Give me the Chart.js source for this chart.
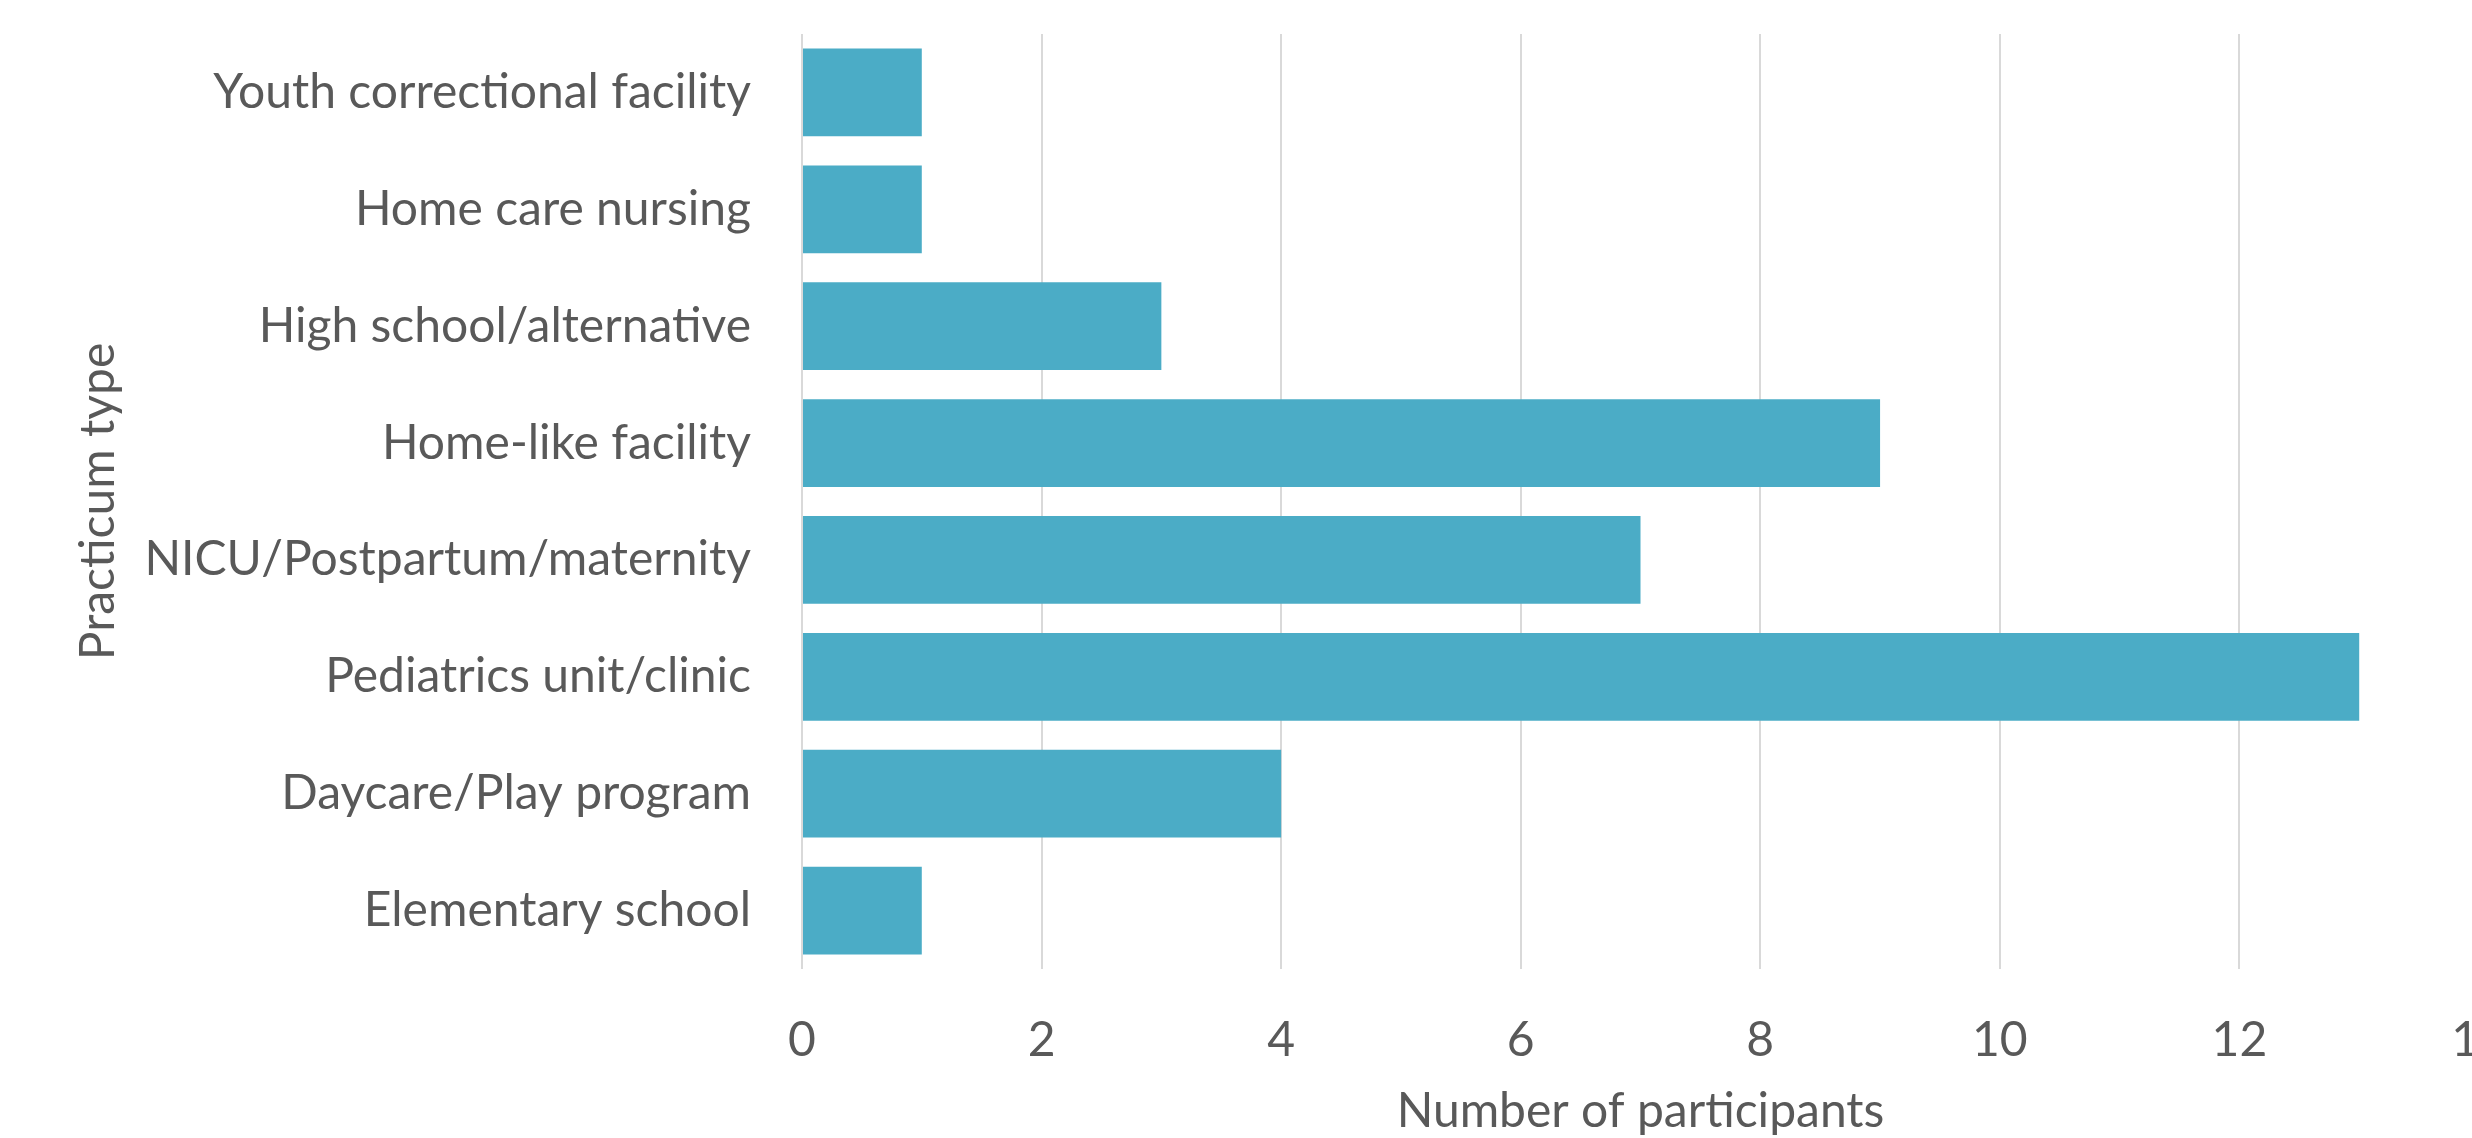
<!DOCTYPE html>
<html>
<head>
<meta charset="utf-8">
<title>Practicum type</title>
<script src="https://cdn.jsdelivr.net/npm/chart.js@4.4.1/dist/chart.umd.min.js"></script>
<style>
  html, body { margin: 0; padding: 0; background: #fff; overflow: hidden; }
  #chart { display: block; }
</style>
</head>
<body>
<canvas id="chart" width="2472" height="1138"></canvas>
<script>
// Values (top to bottom)
const categories = [
  'Youth correctional facility',
  'Home care nursing',
  'High school/alternative',
  'Home-like facility',
  'NICU/Postpartum/maternity',
  'Pediatrics unit/clinic',
  'Daycare/Play program',
  'Elementary school'
];
const participants = [1, 1, 3, 9, 7, 13, 4, 1];
const xTicks = [0, 2, 4, 6, 8, 10, 12, 14];

const textColor = '#595959';
const fontFamily = 'Lato, "Open Sans", sans-serif';
const fontSize = 48;

// In the original the plot runs a few px past the right edge (the "14" is cut off).
// Layout won't take negative padding, so widen the x scale after layout.
const overhangRight = {
  id: 'overhangRight',
  afterLayout(chart) {
    const extra = 7;
    const x = chart.scales.x;
    chart.chartArea.right += extra;
    chart.chartArea.width += extra;
    x.right += extra;
    x.width += extra;
    x.configure();
  }
};

const ctx = document.getElementById('chart').getContext('2d');

new Chart(ctx, {
  type: 'bar',
  data: {
    labels: categories,
    datasets: [{
      label: 'Number of participants',
      data: participants,
      backgroundColor: '#4BACC6',
      borderWidth: 0,
      barPercentage: 0.75,
      categoryPercentage: 1.0,
    }]
  },
  options: {
    indexAxis: 'y',
    responsive: false,
    devicePixelRatio: 1,
    animation: false,
    layout: {
      padding: { top: 34, right: 0, bottom: 0, left: 0 }
    },
    scales: {
      x: {
        min: xTicks[0],
        max: xTicks[xTicks.length - 1],
        afterBuildTicks: (scale) => {
          scale.ticks = xTicks.map(v => ({ value: v }));
        },
        afterFit: (scale) => {
          scale.height = 169;
          scale.paddingLeft = 0;
          scale.paddingRight = 0;
        },
        grid: {
          color: '#D9D9D9',
          lineWidth: 2,
          drawTicks: false,
        },
        border: { display: false },
        ticks: {
          color: textColor,
          padding: 43,
          maxRotation: 0,
          font: { family: fontFamily, size: fontSize }
        },
        title: {
          display: true,
          text: 'Number of participants',
          color: textColor,
          padding: { top: 0, bottom: 0 },
          font: { family: fontFamily, size: fontSize, lineHeight: 1.1 }
        }
      },
      y: {
        afterFit: (scale) => {
          scale.width = 802;
          scale.paddingTop = 0;
          scale.paddingBottom = 0;
        },
        grid: { display: false, drawTicks: false },
        border: { display: false },
        ticks: {
          color: textColor,
          padding: 51,
          font: { family: fontFamily, size: fontSize }
        },
        title: {
          display: true,
          text: 'Practicum type',
          color: textColor,
          padding: { top: 72, bottom: 0 },
          font: { family: fontFamily, size: fontSize, lineHeight: 1.1 }
        }
      }
    },
    plugins: {
      legend: { display: false },
      tooltip: { enabled: false }
    }
  },
  plugins: [overhangRight]
});
</script>
</body>
</html>
